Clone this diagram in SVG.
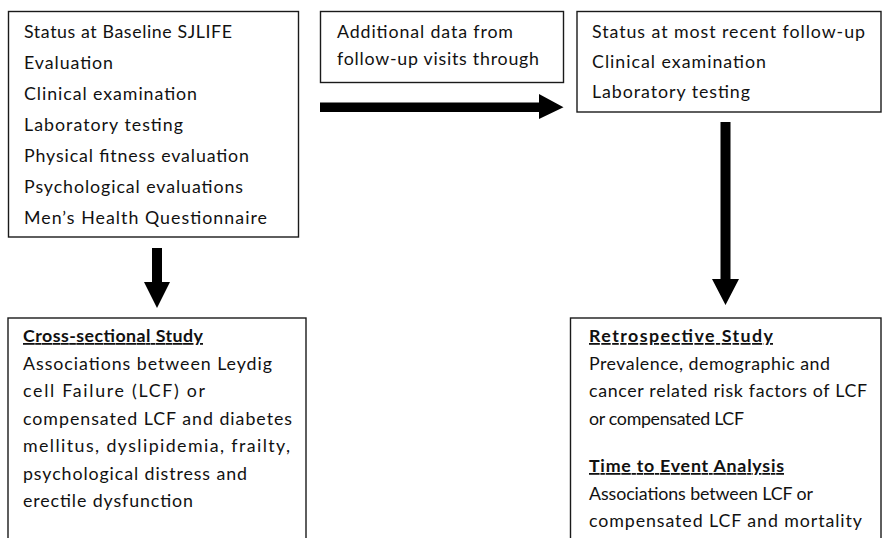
<svg xmlns="http://www.w3.org/2000/svg" width="882" height="538" viewBox="0 0 882 538">
  <style>
    .box { fill: #ffffff; stroke: #1a1a1a; stroke-width: 1.4; }
    .t { font-family: Lato, "Open Sans", "Liberation Sans", sans-serif; font-size: 17.8px; fill: #111111; }
    .h { font-weight: bold; text-decoration: underline; }
    .arrow { fill: #000000; }
  </style>
  <rect width="882" height="538" fill="#ffffff"/>

  <!-- baseline evaluation -->
  <g id="baseline">
    <rect class="box" x="8.5" y="11.5" width="290" height="225.5"/>
    <text class="t" x="24" y="38" textLength="208">Status at Baseline SJLIFE</text>
    <text class="t" x="24" y="69" textLength="89">Evaluation</text>
    <text class="t" x="24" y="100" textLength="173">Clinical examination</text>
    <text class="t" x="24" y="131" textLength="159">Laboratory testing</text>
    <text class="t" x="24" y="162" textLength="225">Physical fitness evaluation</text>
    <text class="t" x="24" y="193" textLength="219">Psychological evaluations</text>
    <text class="t" x="24" y="224" textLength="243">Men’s Health Questionnaire</text>
  </g>

  <!-- follow-up data -->
  <g id="followup-data">
    <rect class="box" x="320.5" y="11.5" width="243" height="71"/>
    <text class="t" x="337" y="38" textLength="176">Additional data from</text>
    <text class="t" x="337" y="65" textLength="202">follow-up visits through</text>
  </g>

  <!-- most recent follow-up -->
  <g id="recent-followup">
    <rect class="box" x="577" y="11.5" width="304" height="100.5"/>
    <text class="t" x="592" y="38" textLength="273">Status at most recent follow-up</text>
    <text class="t" x="592" y="68" textLength="174">Clinical examination</text>
    <text class="t" x="592" y="98" textLength="158">Laboratory testing</text>
  </g>

  <!-- cross-sectional study -->
  <g id="cross-sectional">
    <rect class="box" x="8" y="318" width="298" height="240"/>
    <text class="t h" x="23" y="342" textLength="180">Cross-sectional Study</text>
    <text class="t" x="23" y="369.5" textLength="249">Associations between Leydig</text>
    <text class="t" x="23" y="397" textLength="182">cell Failure (LCF) or</text>
    <text class="t" x="23" y="424.5" textLength="269">compensated LCF and diabetes</text>
    <text class="t" x="23" y="452" textLength="267">mellitus, dyslipidemia, frailty,</text>
    <text class="t" x="23" y="479.5" textLength="224">psychological distress and</text>
    <text class="t" x="23" y="507" textLength="170">erectile dysfunction</text>
  </g>

  <!-- retrospective study and time to event -->
  <g id="retrospective">
    <rect class="box" x="570.5" y="318" width="310.5" height="240"/>
    <text class="t h" x="589" y="342" textLength="184">Retrospective Study</text>
    <text class="t" x="589" y="369.5" textLength="241">Prevalence, demographic and</text>
    <text class="t" x="589" y="397" textLength="278">cancer related risk factors of LCF</text>
    <text class="t" x="589" y="424.5" textLength="155">or compensated LCF</text>
    <text class="t h" x="589" y="472" textLength="195">Time to Event Analysis</text>
    <text class="t" x="589" y="499.5" textLength="224">Associations between LCF or</text>
    <text class="t" x="589" y="527" textLength="273">compensated LCF and mortality</text>
  </g>

  <!-- block arrows -->
  <g id="connectors">
    <polygon class="arrow" points="152,248 162,248 162,282 170,282 157,308 144,282 152,282"/>
    <polygon class="arrow" points="320,102.5 539,102.5 539,94 563.5,107.3 539,119 539,112 320,112"/>
    <polygon class="arrow" points="720.5,122 730.5,122 730.5,279 739,279 725.5,305 712,279 720.5,279"/>
  </g>
</svg>
